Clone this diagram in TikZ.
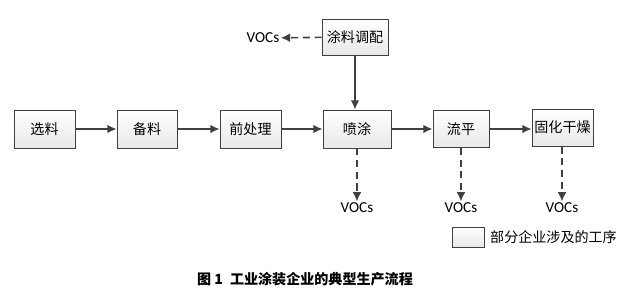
\documentclass[tikz,border=0pt]{standalone}
\usepackage{fontspec}
\setmainfont{Noto Sans CJK SC}
\newfontfamily\vocfont{Carlito}
\usetikzlibrary{arrows.meta,shadows}

\begin{document}
\begin{tikzpicture}[>=Latex,font=\fontsize{12}{14}\selectfont,
  proc/.style={draw=linecolor,line width=0.6pt,minimum height=1.14cm,
    inner sep=0pt,top color=white,bottom color=boxgray,
    drop shadow={shadow xshift=0.6pt,shadow yshift=-0.6pt,fill=black!25}},
  flow/.style={draw=linecolor,line width=2pt,
    arrows={-Latex[length=8pt,width=7.5pt]}},
  gas/.style={flow,dash pattern=on 6pt off 4pt},
  voc/.style={font=\vocfont\fontsize{13}{15}\selectfont,inner sep=1pt}]
\definecolor{linecolor}{RGB}{64,64,64}
\definecolor{boxgray}{RGB}{232,232,232}

% Page frame, 626x300 px at 0.03 cm per px.
\useasboundingbox (0,0) rectangle (18.78,9);

% Main process line.
\node[proc,minimum width=1.83cm] (xuanliao) at (1.335,5.13) {选料};
\node[proc,minimum width=1.80cm] (beiliao) at (4.41,5.13) {备料};
\node[proc,minimum width=1.83cm] (qianchuli) at (7.515,5.13) {前处理};
\node[proc,minimum width=2.04cm] (pentu) at (10.71,5.13) {喷涂};
\node[proc,minimum width=1.68cm,minimum height=1.11cm] (liuping) at (13.83,5.13) {流平};
\node[proc,minimum width=1.83cm,minimum height=1.11cm] (guhua) at (16.875,5.17) {固化干燥};

% Paint mixing above the spraying step.
\node[proc,minimum width=1.98cm,minimum height=1.08cm] (tuliao) at (10.65,7.89) {涂料调配};

\draw[flow] (xuanliao) -- (beiliao);
\draw[flow] (beiliao) -- (qianchuli);
\draw[flow] (qianchuli) -- (pentu);
\draw[flow] (pentu) -- (liuping);
\draw[flow] (liuping.east) -- (guhua.west|-liuping.east);
\draw[flow] (tuliao) -- (pentu.north-|tuliao);

% Emission points.
\node[voc] (vocmix) at (7.89,7.86) {VOCs};
\node[voc] (vocspray) at (10.71,2.76) {VOCs};
\node[voc] (vocflow) at (13.83,2.76) {VOCs};
\node[voc] (vocdry) at (16.86,2.76) {VOCs};

\draw[gas,line width=1.4pt] (tuliao) -- (vocmix);
\draw[gas] (pentu) -- (vocspray);
\draw[gas] (liuping) -- (vocflow);
\draw[gas] (guhua.south-|vocdry) -- (vocdry);

% Legend.
\node[proc,minimum width=0.96cm,minimum height=0.6cm] (legbox) at (14.04,1.89) {};
\node[anchor=west,inner sep=0pt] (legtext) at (14.7,1.89) {部分企业涉及的工序};

% Caption.
\node[font=\bfseries\fontsize{12}{14}\selectfont] (caption) at (9.15,0.63)
  {图 1\enspace 工业涂装企业的典型生产流程};
\end{tikzpicture}
\end{document}
